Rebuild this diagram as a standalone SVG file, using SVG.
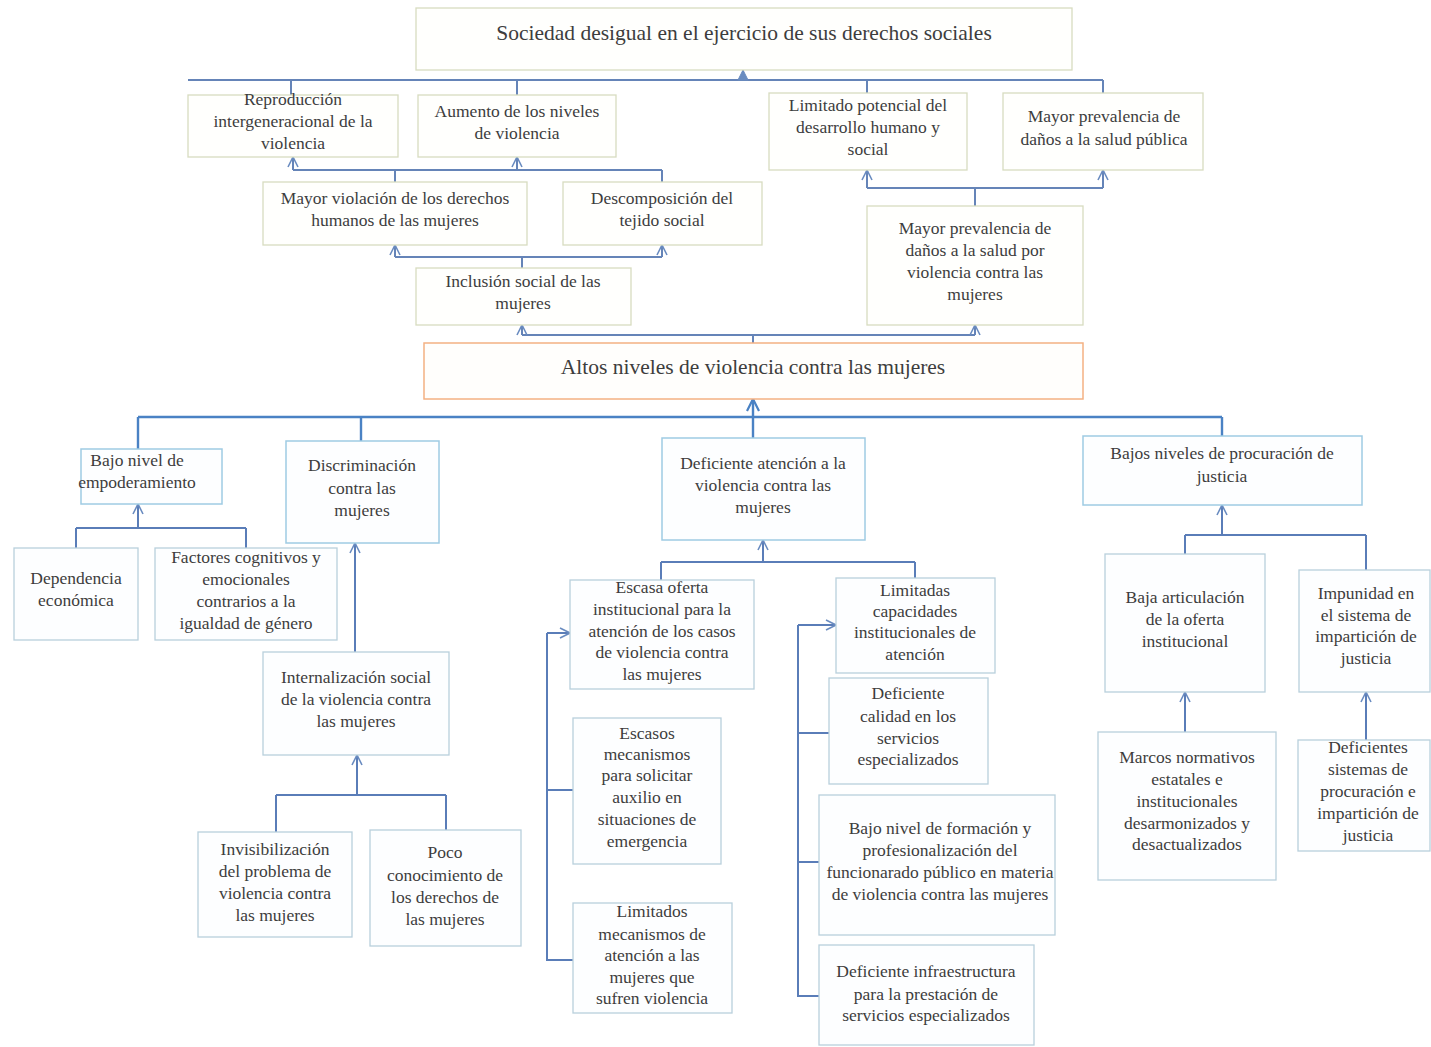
<svg xmlns="http://www.w3.org/2000/svg" width="1431" height="1047" viewBox="0 0 1431 1047">
<style>
.t{font-family:"Liberation Serif","DejaVu Serif",serif;font-size:17.5px;fill:#3d3d3d;text-anchor:middle}
.big{font-size:21.5px}
.ef{fill:#fffffd;stroke:#d8dcc0;stroke-width:1.3}
.main{fill:#fffefc;stroke:#f4b183;stroke-width:1.5}
.ca{fill:#fdfeff;stroke:#9fcbe3;stroke-width:1.5}
.sub{fill:#fdfeff;stroke:#b9d0dc;stroke-width:1.3}
.c1{fill:none;stroke:#6584b8;stroke-width:2}
.c2{fill:none;stroke:#4a82c4;stroke-width:2.4}
.c3{fill:none;stroke:#5a7db8;stroke-width:2}
</style>
<defs>
<marker id="ao" viewBox="0 0 12 12" refX="11" refY="6" markerWidth="12" markerHeight="12" markerUnits="userSpaceOnUse" orient="auto">
<path d="M1,1 L11,6 L1,11" fill="none" stroke="#6a8cc0" stroke-width="1.6"/>
</marker>
<marker id="ab" viewBox="0 0 14 14" refX="13" refY="7" markerWidth="14" markerHeight="14" markerUnits="userSpaceOnUse" orient="auto">
<path d="M1,1 L13,7 L1,13" fill="none" stroke="#4a82c4" stroke-width="2.2"/>
</marker>
<marker id="af" viewBox="0 0 12 12" refX="11" refY="6" markerWidth="12" markerHeight="12" markerUnits="userSpaceOnUse" orient="auto">
<path d="M1,1 L11,6 L1,11 Z" fill="#6a8cc0" stroke="#6a8cc0" stroke-width="1"/>
</marker>
</defs>
<rect width="1431" height="1047" fill="#ffffff"/>

<g id="connectors">
<path class="c1" d="M188,80 H1103"/>
<path class="c1" d="M743,80 V70" marker-end="url(#af)"/>
<path class="c1" d="M291,80 V95 M517,80 V95 M867,80 V93 M1103,80 V93"/>
<path class="c1" d="M293,170 H662"/>
<path class="c1" d="M293,170 V157" marker-end="url(#ao)"/>
<path class="c1" d="M517,170 V157" marker-end="url(#ao)"/>
<path class="c1" d="M395,170 V182 M662,170 V182"/>
<path class="c1" d="M395,257 H662"/>
<path class="c1" d="M395,257 V245" marker-end="url(#ao)"/>
<path class="c1" d="M662,257 V245" marker-end="url(#ao)"/>
<path class="c1" d="M522,257 V268"/>
<path class="c1" d="M867,188 H1103"/>
<path class="c1" d="M867,188 V170" marker-end="url(#ao)"/>
<path class="c1" d="M1103,188 V170" marker-end="url(#ao)"/>
<path class="c1" d="M975,188 V206"/>
<path class="c1" d="M522,335 H975"/>
<path class="c1" d="M522,335 V325" marker-end="url(#ao)"/>
<path class="c1" d="M975,335 V325" marker-end="url(#ao)"/>
<path class="c1" d="M753,335 V343"/>
<path class="c2" d="M138,417 H1222"/>
<path class="c2" d="M753,438 V399" marker-end="url(#ab)"/>
<path class="c2" d="M138,417 V449 M361,417 V441 M1222,417 V436"/>
<path class="c3" d="M76,528 H246 M76,528 V548 M246,528 V548"/>
<path class="c3" d="M138,528 V504" marker-end="url(#ao)"/>
<path class="c3" d="M355,652 V543" marker-end="url(#ao)"/>
<path class="c3" d="M276,795 H446 M276,795 V832 M446,795 V830"/>
<path class="c3" d="M357,795 V755" marker-end="url(#ao)"/>
<path class="c3" d="M661,562 H915 M661,562 V580 M915,562 V578"/>
<path class="c3" d="M763,562 V540" marker-end="url(#ao)"/>
<path class="c3" d="M573,960 H547 V633"/>
<path class="c3" d="M547,633 H570" marker-end="url(#ao)"/>
<path class="c3" d="M547,790 H573"/>
<path class="c3" d="M819,996 H798 V625"/>
<path class="c3" d="M798,625 H836" marker-end="url(#ao)"/>
<path class="c3" d="M798,733 H829 M798,862 H819"/>
<path class="c3" d="M1185,535 H1366 M1185,535 V554 M1366,535 V570"/>
<path class="c3" d="M1222,535 V505" marker-end="url(#ao)"/>
<path class="c3" d="M1185,732 V692" marker-end="url(#ao)"/>
<path class="c3" d="M1366,740 V692" marker-end="url(#ao)"/>
</g>

<g id="n-sociedad"><rect class="ef" x="416" y="8" width="656" height="62"/><text class="t big" x="744" y="40">Sociedad desigual en el ejercicio de sus derechos sociales</text></g>
<g id="n-reproduccion"><rect class="ef" x="188" y="95" width="210" height="62"/><text class="t" x="293" y="105">Reproducción</text><text class="t" x="293" y="127">intergeneracional de la</text><text class="t" x="293" y="149">violencia</text></g>
<g id="n-aumento"><rect class="ef" x="418" y="95" width="198" height="62"/><text class="t" x="517" y="117">Aumento de los niveles</text><text class="t" x="517" y="139">de violencia</text></g>
<g id="n-limitado"><rect class="ef" x="769" y="93" width="198" height="77"/><text class="t" x="868" y="111">Limitado potencial del</text><text class="t" x="868" y="133">desarrollo humano y</text><text class="t" x="868" y="155">social</text></g>
<g id="n-mayorpub"><rect class="ef" x="1003" y="93" width="200" height="77"/><text class="t" x="1104" y="122">Mayor prevalencia  de</text><text class="t" x="1104" y="145">daños a la salud pública</text></g>
<g id="n-violacion"><rect class="ef" x="263" y="182" width="264" height="63"/><text class="t" x="395" y="204">Mayor violación de los derechos</text><text class="t" x="395" y="226">humanos de las mujeres</text></g>
<g id="n-descomposicion"><rect class="ef" x="563" y="182" width="199" height="63"/><text class="t" x="662" y="204">Descomposición del</text><text class="t" x="662" y="226">tejido social</text></g>
<g id="n-inclusion"><rect class="ef" x="416" y="268" width="215" height="57"/><text class="t" x="523" y="287">Inclusión social de las</text><text class="t" x="523" y="309">mujeres</text></g>
<g id="n-mayorsalud"><rect class="ef" x="867" y="206" width="216" height="119"/><text class="t" x="975" y="234">Mayor prevalencia de</text><text class="t" x="975" y="256">daños a la salud por</text><text class="t" x="975" y="278">violencia contra las</text><text class="t" x="975" y="300">mujeres</text></g>

<g id="n-altos"><rect class="main" x="424" y="343" width="659" height="56"/><text class="t big" x="753" y="374">Altos niveles de violencia contra las mujeres</text></g>

<g id="n-bajonivel"><rect class="ca" x="81" y="449" width="141" height="55"/><text class="t" x="137" y="466">Bajo nivel de</text><text class="t" x="137" y="488">empoderamiento</text></g>
<g id="n-discriminacion"><rect class="ca" x="286" y="441" width="153" height="102"/><text class="t" x="362" y="471">Discriminación</text><text class="t" x="362" y="494">contra las</text><text class="t" x="362" y="516">mujeres</text></g>
<g id="n-deficiente"><rect class="ca" x="662" y="438" width="203" height="102"/><text class="t" x="763" y="469">Deficiente atención a la</text><text class="t" x="763" y="491">violencia contra las</text><text class="t" x="763" y="513">mujeres</text></g>
<g id="n-bajosniveles"><rect class="ca" x="1083" y="436" width="279" height="69"/><text class="t" x="1222" y="459">Bajos niveles de procuración de</text><text class="t" x="1222" y="482">justicia</text></g>

<g id="n-dependencia"><rect class="sub" x="14" y="548" width="124" height="92"/><text class="t" x="76" y="584">Dependencia</text><text class="t" x="76" y="606">económica</text></g>
<g id="n-factores"><rect class="sub" x="155" y="548" width="182" height="92"/><text class="t" x="246" y="563">Factores cognitivos y</text><text class="t" x="246" y="585">emocionales</text><text class="t" x="246" y="607">contrarios a la</text><text class="t" x="246" y="629">igualdad de género</text></g>
<g id="n-internalizacion"><rect class="sub" x="263" y="652" width="186" height="103"/><text class="t" x="356" y="683">Internalización social</text><text class="t" x="356" y="705">de la violencia contra</text><text class="t" x="356" y="727">las mujeres</text></g>
<g id="n-invisibilizacion"><rect class="sub" x="198" y="832" width="154" height="105"/><text class="t" x="275" y="855">Invisibilización</text><text class="t" x="275" y="877">del problema de</text><text class="t" x="275" y="899">violencia contra</text><text class="t" x="275" y="921">las mujeres</text></g>
<g id="n-poco"><rect class="sub" x="370" y="830" width="151" height="116"/><text class="t" x="445" y="858">Poco</text><text class="t" x="445" y="881">conocimiento de</text><text class="t" x="445" y="903">los derechos de</text><text class="t" x="445" y="925">las mujeres</text></g>

<g id="n-escasaoferta"><rect class="sub" x="570" y="580" width="184" height="109"/><text class="t" x="662" y="593">Escasa oferta</text><text class="t" x="662" y="615">institucional para la</text><text class="t" x="662" y="637">atención de los casos</text><text class="t" x="662" y="658">de violencia contra</text><text class="t" x="662" y="680">las mujeres</text></g>
<g id="n-escasos"><rect class="sub" x="573" y="718" width="148" height="146"/><text class="t" x="647" y="739">Escasos</text><text class="t" x="647" y="760">mecanismos</text><text class="t" x="647" y="781">para solicitar</text><text class="t" x="647" y="803">auxilio en</text><text class="t" x="647" y="825">situaciones de</text><text class="t" x="647" y="847">emergencia</text></g>
<g id="n-limitados"><rect class="sub" x="573" y="903" width="159" height="110"/><text class="t" x="652" y="917">Limitados</text><text class="t" x="652" y="940">mecanismos de</text><text class="t" x="652" y="961">atención a las</text><text class="t" x="652" y="983">mujeres que</text><text class="t" x="652" y="1004">sufren violencia</text></g>
<g id="n-limitadas"><rect class="sub" x="836" y="578" width="159" height="95"/><text class="t" x="915" y="596">Limitadas</text><text class="t" x="915" y="617">capacidades</text><text class="t" x="915" y="638">institucionales  de</text><text class="t" x="915" y="660">atención</text></g>
<g id="n-calidad"><rect class="sub" x="829" y="678" width="159" height="106"/><text class="t" x="908" y="699">Deficiente</text><text class="t" x="908" y="722">calidad en los</text><text class="t" x="908" y="744">servicios</text><text class="t" x="908" y="765">especializados</text></g>
<g id="n-formacion"><rect class="sub" x="819" y="795" width="236" height="140"/><text class="t" x="940" y="834">Bajo nivel de formación y</text><text class="t" x="940" y="856">profesionalización del</text><text class="t" x="940" y="878">funcionarado público en materia</text><text class="t" x="940" y="900">de violencia contra las mujeres</text></g>
<g id="n-infraestructura"><rect class="sub" x="819" y="945" width="215" height="100"/><text class="t" x="926" y="977">Deficiente infraestructura</text><text class="t" x="926" y="1000">para la prestación de</text><text class="t" x="926" y="1021">servicios especializados</text></g>

<g id="n-articulacion"><rect class="sub" x="1105" y="554" width="160" height="138"/><text class="t" x="1185" y="603">Baja articulación</text><text class="t" x="1185" y="625">de la oferta</text><text class="t" x="1185" y="647">institucional</text></g>
<g id="n-impunidad"><rect class="sub" x="1299" y="570" width="131" height="122"/><text class="t" x="1366" y="599">Impunidad en</text><text class="t" x="1366" y="621">el sistema de</text><text class="t" x="1366" y="642">impartición de</text><text class="t" x="1366" y="664">justicia</text></g>
<g id="n-marcos"><rect class="sub" x="1098" y="732" width="178" height="148"/><text class="t" x="1187" y="763">Marcos normativos</text><text class="t" x="1187" y="785">estatales e</text><text class="t" x="1187" y="807">institucionales</text><text class="t" x="1187" y="829">desarmonizados y</text><text class="t" x="1187" y="850">desactualizados</text></g>
<g id="n-deficientes"><rect class="sub" x="1298" y="740" width="132" height="111"/><text class="t" x="1368" y="753">Deficientes</text><text class="t" x="1368" y="775">sistemas de</text><text class="t" x="1368" y="797">procuración e</text><text class="t" x="1368" y="819">impartición de</text><text class="t" x="1368" y="841">justicia</text></g>
</svg>
